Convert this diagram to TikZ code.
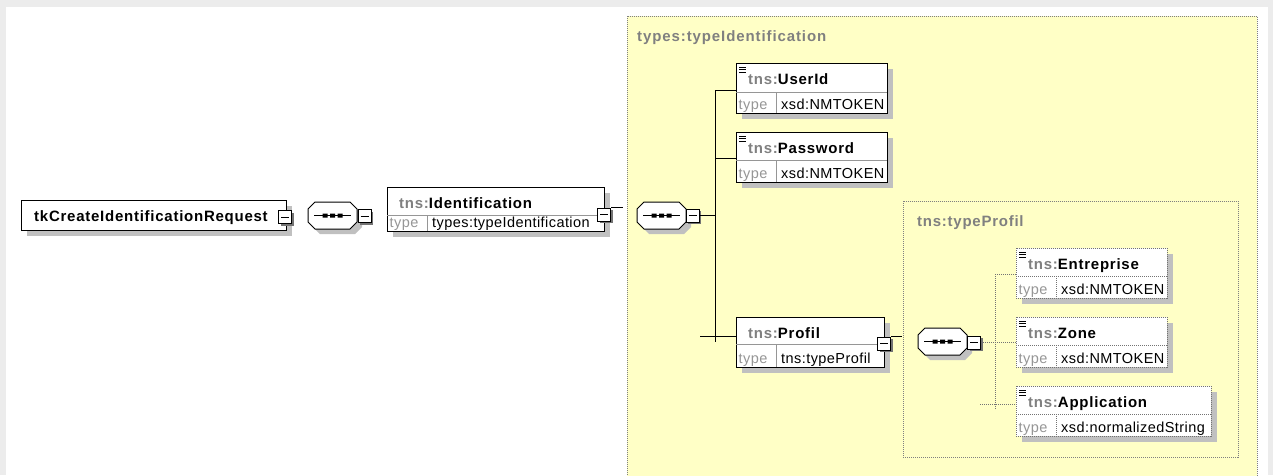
\documentclass[tikz,border=0pt]{standalone}
\usepackage{fontspec}
\setmainfont{Liberation Sans}
\newfontfamily\nmfont[LetterSpace=5]{Liberation Sans}
\newfontfamily\rgfont[LetterSpace=3]{Liberation Sans}
\newfontfamily\lbfont[LetterSpace=6]{Liberation Sans}
\definecolor{tyel}{RGB}{255,255,198}
\definecolor{tgray}{RGB}{128,128,128}
\definecolor{lgray}{RGB}{150,150,150}
\definecolor{shad}{RGB}{192,192,192}
\definecolor{framec}{RGB}{236,236,236}
\tikzset{
  elbox/.style={draw=black, fill=white, line width=1pt, inner sep=0pt, rectangle},
  dotbox/.style={draw=black!55, line width=0.8pt, dash pattern=on 1pt off 1pt},
  divl/.style={draw=lgray, line width=0.7pt},
  nm/.style={font=\nmfont\bfseries\fontsize{15}{17}\selectfont, inner sep=0pt, anchor=base west},
  tv/.style={font=\rgfont\fontsize{14.5}{17}\selectfont, inner sep=0pt, anchor=base west},
  tl/.style={tv, text=lgray},
  lbl/.style={font=\lbfont\bfseries\fontsize{15}{17}\selectfont, text=tgray, inner sep=0pt, anchor=base west},
  lbltwo/.style={font=\nmfont\bfseries\fontsize{15}{17}\selectfont, text=tgray, inner sep=0pt, anchor=base west},
  tbox/.style={draw=gray, fill=tyel, dash pattern=on 1pt off 1pt, line width=0.8pt, inner sep=0pt, anchor=north west, rectangle},
  conn/.style={draw=black, line width=1pt},
  dconn/.style={draw=black!55, line width=0.8pt, dash pattern=on 1pt off 1pt},
  mbox/.style={draw=black, fill=white, minimum size=13pt, inner sep=0pt, line width=1pt, rectangle,
    path picture={\draw[line width=0.9pt] ([xshift=2.5pt]path picture bounding box.west) -- ([xshift=-2.5pt]path picture bounding box.east);}},
  seqanchor/.style={inner sep=0pt, minimum width=49pt, minimum height=27pt, rectangle},
}
\newcommand{\minusat}[3]{%
  \fill[black!55] (#2-4.5,#3-4.5) rectangle (#2+8.5,#3+8.5);
  \node[mbox] (#1) at (#2,#3) {};}
\newcommand{\seqat}[3]{%
  \begin{scope}[shift={(#2,#3)}]
  \fill[shad] (12,5) -- (47,5) -- (54,12) -- (54,25) -- (47,32) -- (12,32) -- (5,25) -- (5,12) -- cycle;
  \draw[fill=white, line width=1pt] (7,0) -- (42,0) -- (49,7) -- (49,20) -- (42,27) -- (7,27) -- (0,20) -- (0,7) -- cycle;
  \draw[line width=1pt] (6,13.5) -- (43,13.5);
  \fill (14.5,11.5) rectangle ++(5,4) (22,11.5) rectangle ++(5,4) (29.5,11.5) rectangle ++(5,4);
  \end{scope}
  \node[seqanchor, anchor=north west] (#1) at (#2,#3) {};}
\newcommand{\sicon}[2]{%
  \draw[line width=0.8pt] (#1+3,#2+4) -- ++(7,0) (#1+3,#2+6.5) -- ++(7,0) (#1+3,#2+9) -- ++(7,0);}
\newcommand{\elem}[9][]{%
  \fill[shad] (#3+6,#4+6) rectangle (#3+#5+6,#4+#6+#7+6);
  \node[elbox,#1,anchor=north west,minimum width=#5pt,minimum height=#6pt+#7pt] (#2) at (#3,#4) {};
  \draw[divl,#1] (#3,#4+#6) -- (#3+#5,#4+#6) (#3+40,#4+#6) -- (#3+40,#4+#6+#7);
  \node[nm] (#2-name) at (#3+12,#4+21) {\textcolor{tgray}{tns:}#8};
  \node[tl] (#2-tl) at (#3+2.5,#4+#6+#7-4) {type};
  \node[tv] (#2-type) at (#3+45,#4+#6+#7-4) {#9};}
\begin{document}
\begin{tikzpicture}[x=1pt,y=-1pt]
\useasboundingbox (0,0) rectangle (1273,475);
\clip (0,0) rectangle (1273,475);
\fill[framec] (0,0) rectangle (1273,475);
\fill[white] (6,7) rectangle (1268,480);

% containers
\node[tbox, minimum width=630pt, minimum height=480pt] (tident) at (627,16) {};
\node[lbl] (tident-l) at (637,41) {types:typeIdentification};
\node[tbox, minimum width=335pt, minimum height=256pt] (tprof) at (903,201) {};
\node[lbltwo] (tprof-l) at (917,226) {tns:typeProfil};

% root
\fill[shad] (27,206) rectangle (292,236);
\node[elbox, anchor=north west, minimum width=265pt, minimum height=30pt] (root) at (21,200) {};
\node[nm] (root-t) at (34,221) {tkCreateIdentificationRequest};
\minusat{root-m}{285}{217}

\seqat{seq1}{308}{202}
\minusat{seq1-m}{364.5}{216}

% Identification
\elem{ident}{387}{187}{217}{28}{16}{Identification}{types:typeIdentification}
\minusat{ident-m}{604}{214.5}
\coordinate (ident-s) at (623,208);
\draw[conn] (ident-m.north east) -- (ident-m.north east -| ident-s);

\seqat{seq2}{637}{202}
\minusat{seq2-m}{692.5}{215.5}

% children of typeIdentification
\elem{userid}{736}{63}{151}{29}{21}{UserId}{xsd:NMTOKEN}
\sicon{736}{63}
\elem{password}{736}{132}{151}{28}{22}{Password}{xsd:NMTOKEN}
\sicon{736}{132}
\elem{profil}{736}{317}{148}{27}{23}{Profil}{tns:typeProfil}
\minusat{profil-m}{884}{343.5}
\coordinate (profil-s) at (902,337);
\draw[conn] (profil-m.north east) -- (profil-m.north east -| profil-s);

\coordinate (bus2t) at (715,90);
\coordinate (bus2p) at (715,158);
\coordinate (bus2b) at (715,342);
\coordinate (bus2s) at (700,336);
\draw[conn] (bus2t) -- (bus2b);
\draw[conn] (seq2-m.east) -- (seq2-m.east -| bus2t);
\draw[conn] (bus2t) -- (bus2t -| userid.west);
\draw[conn] (bus2p) -- (bus2p -| password.west);
\draw[conn] (bus2s) -- (bus2s -| profil.west);

% typeProfil content
\seqat{seq3}{918}{328}
\minusat{seq3-m}{974}{342.5}
\elem[dotbox]{entre}{1016}{248}{151}{28}{22}{Entreprise}{xsd:NMTOKEN}
\sicon{1016}{248}
\elem[dotbox]{zone}{1016}{317}{151}{28}{22}{Zone}{xsd:NMTOKEN}
\sicon{1016}{317}
\elem[dotbox]{appli}{1016}{386}{195}{28}{22}{Application}{xsd:normalizedString}
\sicon{1016}{386}

\coordinate (bus3t) at (995,274);
\coordinate (bus3b) at (995,410);
\coordinate (bus3s) at (980,404);
\draw[dconn] (bus3t) -- (bus3b);
\draw[dconn] (bus3t) -- (bus3t -| entre.west);
\draw[dconn] (seq3-m.east) -- (seq3-m.east -| zone.west);
\draw[dconn] (bus3s) -- (bus3s -| appli.west);
\end{tikzpicture}
\end{document}
